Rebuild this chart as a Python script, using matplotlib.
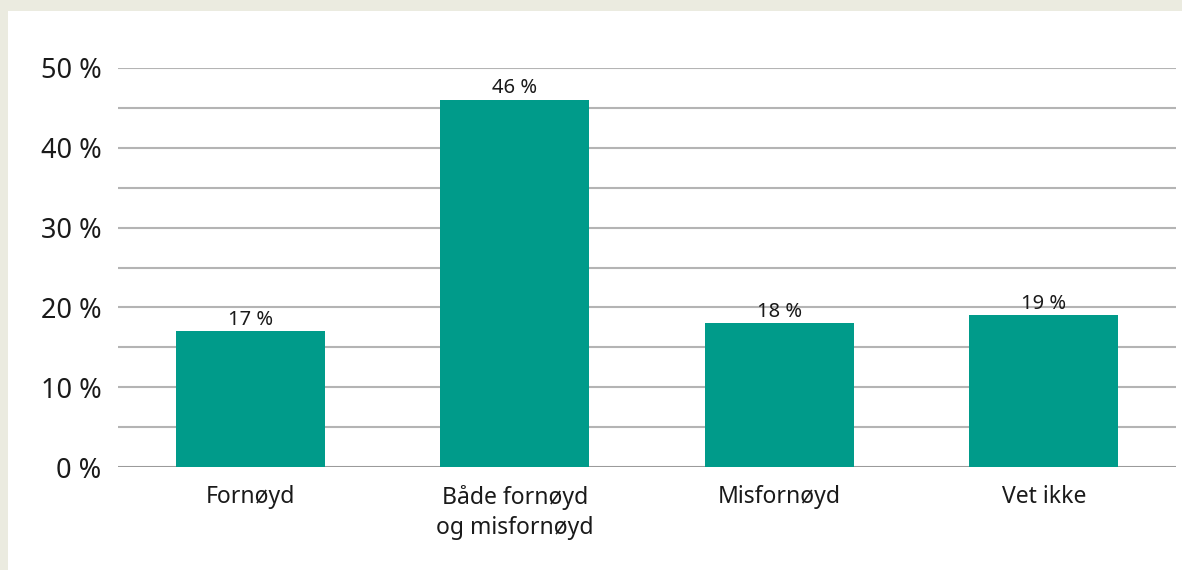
import matplotlib
matplotlib.use("Agg")
import matplotlib.pyplot as plt
from matplotlib.patches import Rectangle
from matplotlib.ticker import MultipleLocator, FuncFormatter

categories = ["Fornøyd", "Både fornøyd\nog misfornøyd", "Misfornøyd", "Vet ikke"]
values = [17, 46, 18, 19]
value_labels = ["17 %", "46 %", "18 %", "19 %"]

plt.rcParams['font.family'] = ['Noto Sans', 'DejaVu Sans']

W, H = 1182, 570
fig = plt.figure(figsize=(W / 100, H / 100), dpi=100)
fig.patch.set_facecolor("#ebebe0")
fig.patches.append(Rectangle((8 / W, 0), 1 - 8 / W, 1 - 11 / H, transform=fig.transFigure,
                             facecolor="white", edgecolor="none", zorder=-10))

ax = fig.add_axes([118 / W, 1 - 467 / H, (1176 - 118) / W, (467 - 68) / H])
ax.set_facecolor("none")

x = range(len(categories))
bars = ax.bar(x, values, width=0.563, color="#009b8a", zorder=3)
for xi, v, lab in zip(x, values, value_labels):
    ax.text(xi, v + 0.2, lab, ha="center", va="bottom", fontsize=14.5, color="#1a1a1a", zorder=4)

ax.set_xlim(-0.5, len(categories) - 0.5)
ax.set_ylim(0, 50)
ax.yaxis.set_major_locator(MultipleLocator(10))
ax.yaxis.set_minor_locator(MultipleLocator(5))
ax.yaxis.set_major_formatter(FuncFormatter(lambda v, p: f"{int(v)} %"))
ax.grid(axis="y", which="both", color="#b4b4b4", linewidth=1.5, zorder=1)
ax.axhline(0, color="#999999", linewidth=2, zorder=2)
for s in ax.spines.values():
    s.set_visible(False)
ax.set_xticks(list(x))
ax.set_xticklabels(categories, fontsize=16.5, color="#1a1a1a", linespacing=1.35)
ax.tick_params(axis="x", length=0, pad=13)
ax.tick_params(axis="y", which="both", length=0, pad=12, labelsize=19.5, labelcolor="#1a1a1a")

fig.savefig("out.png", dpi=100, facecolor=fig.get_facecolor())
